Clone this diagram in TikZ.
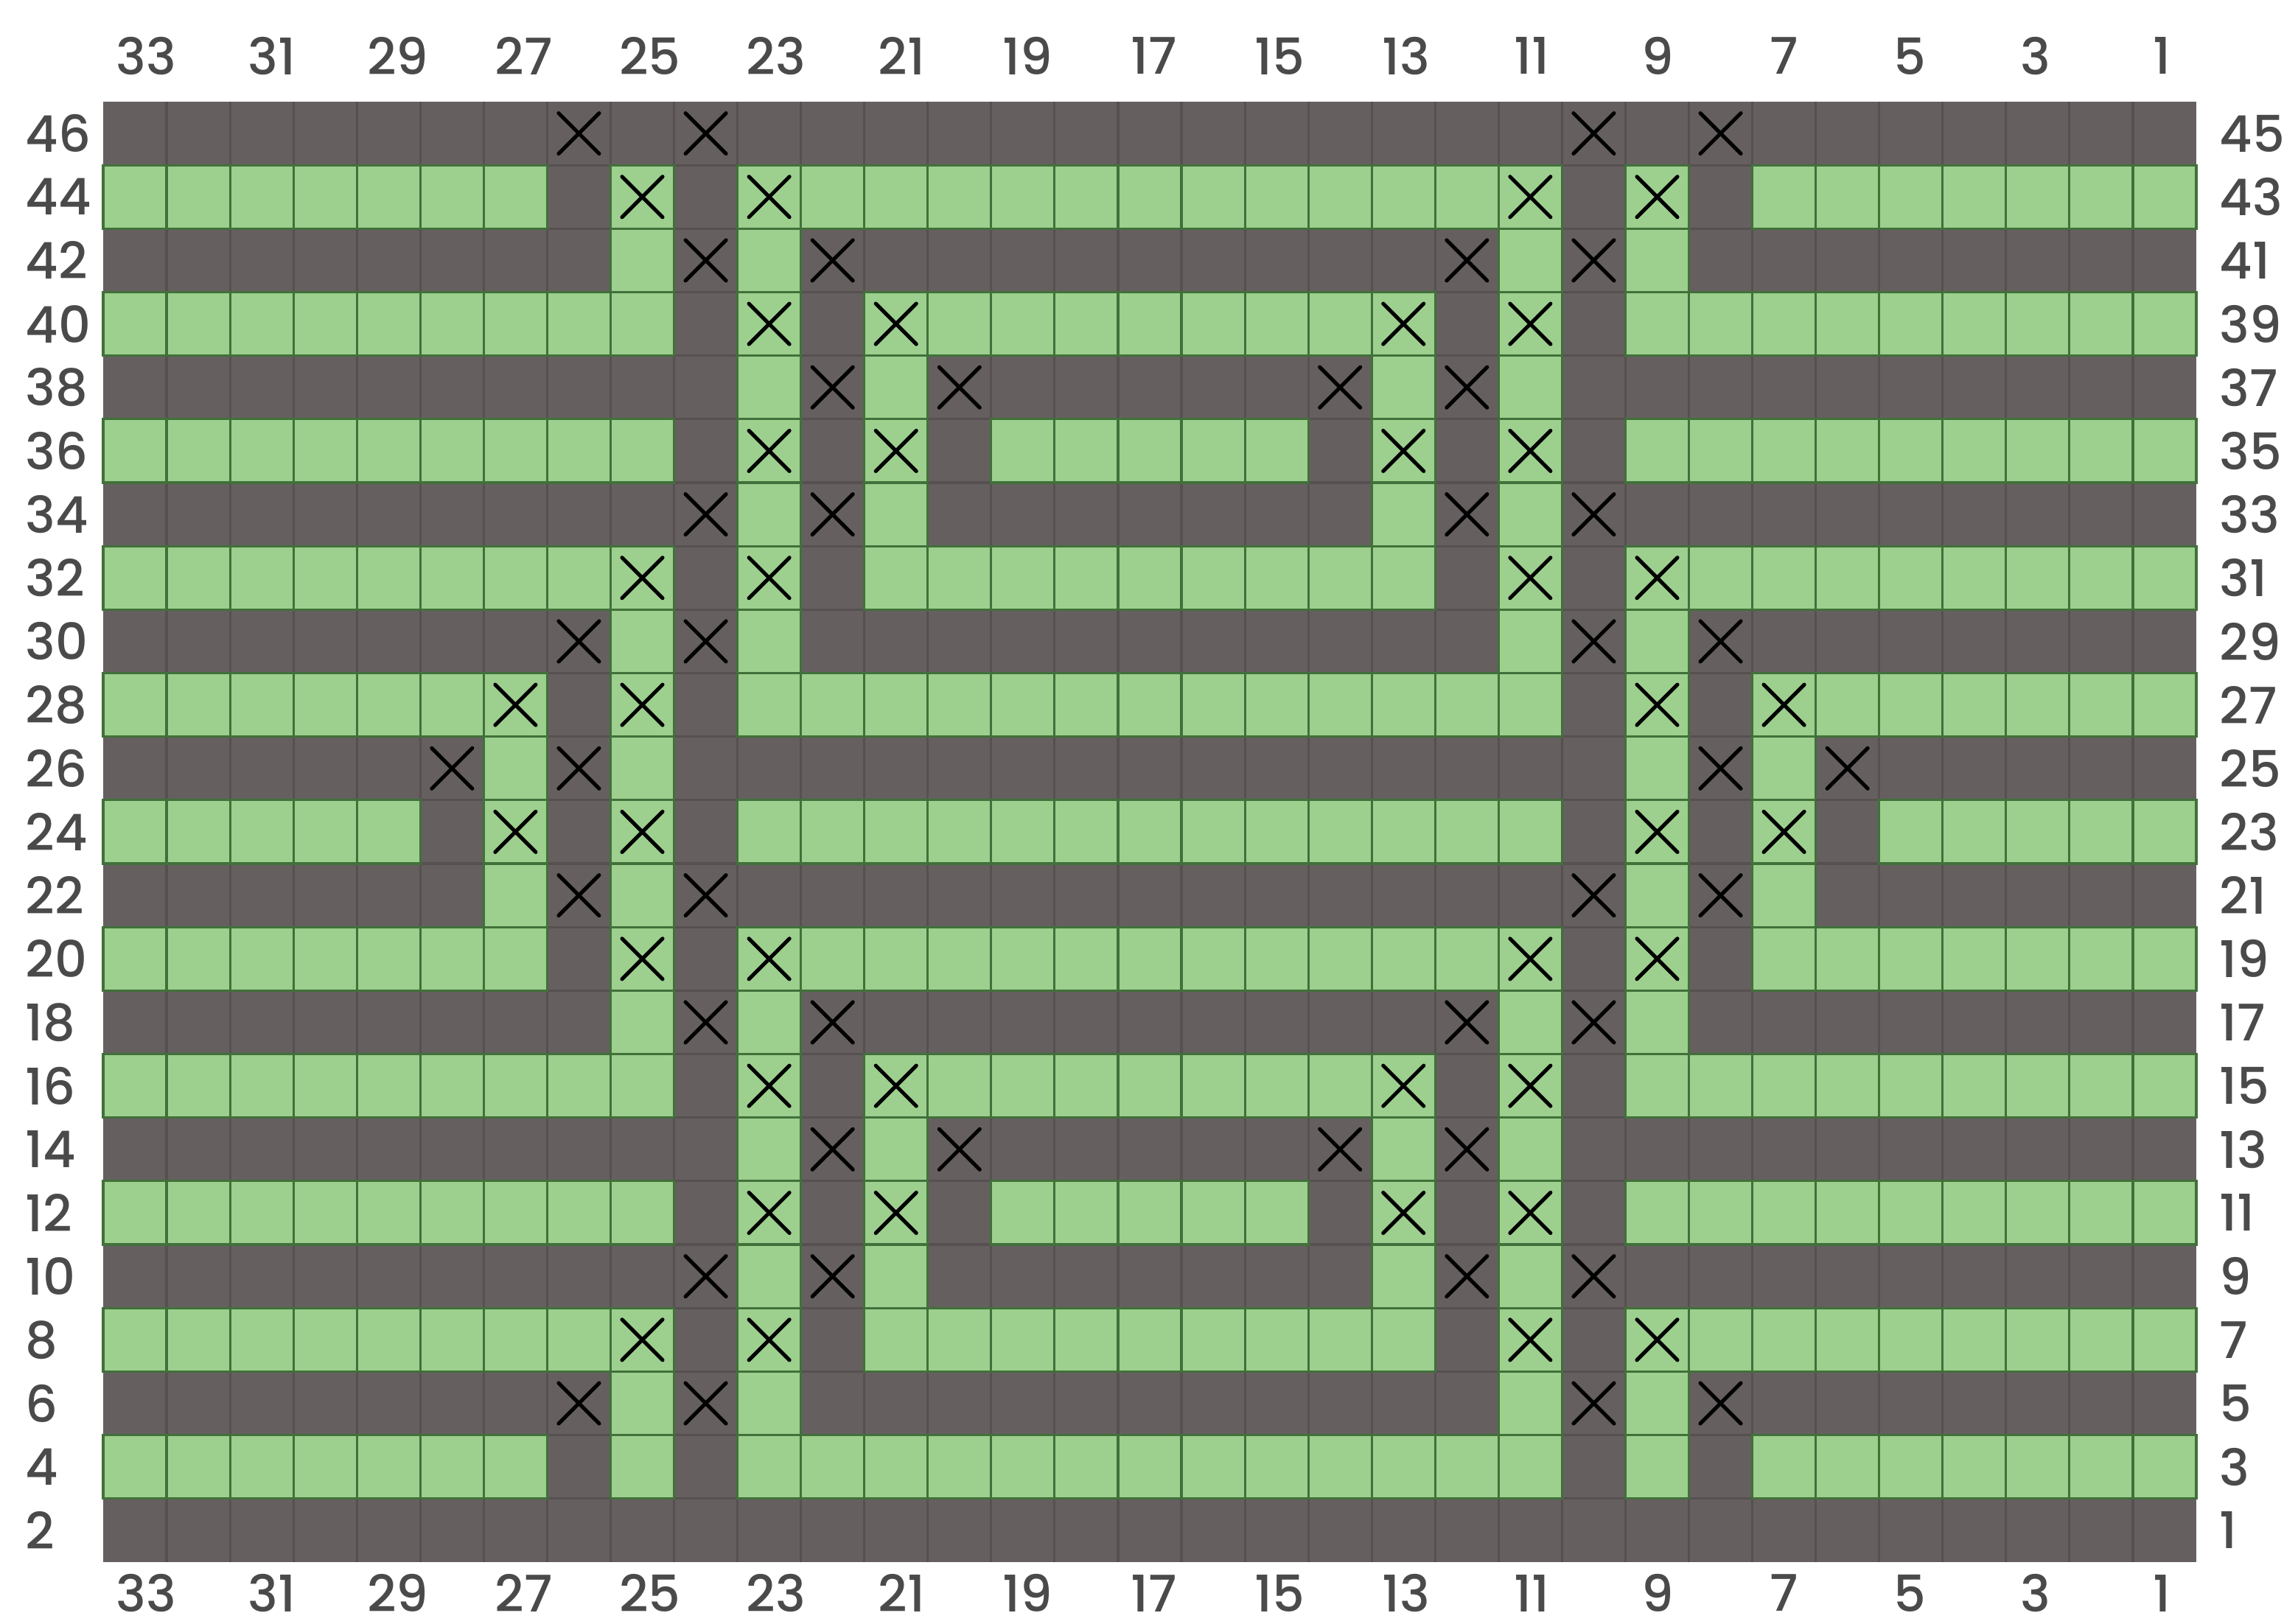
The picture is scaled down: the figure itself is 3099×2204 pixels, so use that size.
\documentclass[tikz,border=0pt]{standalone}
\usepackage{fontspec}
\setmainfont{Poppins}[UprightFont={* Medium}]
\definecolor{kgreen}{HTML}{9DCF8E}
\definecolor{kdark}{HTML}{65605F}
\definecolor{kgline}{HTML}{41703A}
\definecolor{kdline}{HTML}{565150}
\definecolor{klabel}{HTML}{4A4A4A}
\tikzset{
  gcellsty/.style={fill=kgreen, draw=kgline, line width=0.9pt},
  xmark/.style={draw=black, line width=1.45pt, line cap=round},
  lbl/.style={inner sep=0pt, text=klabel, font=\fontsize{19.5}{20}\selectfont},
}
\newcommand\kgc[2]{%
  \path[gcellsty] ({140+(#1-1)*86.06},{138+(#2-1)*86.17}) rectangle ++(86.06,86.17);}
\newcommand\kgs[3]{\foreach \cc in {#2,...,#3}{\kgc{\cc}{#1}}}
\newcommand\kxm[2]{%
  \draw[xmark] ({140+(#1-0.5)*86.06-27.5},{138+(#2-0.5)*86.17-27.5}) -- ++(55,55)
               ({140+(#1-0.5)*86.06+27.5},{138+(#2-0.5)*86.17-27.5}) -- ++(-55,55);}
\newcommand\kxrow[2]{\foreach \cc in {#2}{\kxm{\cc}{#1}}}
% green row types
\newcommand\rowA[1]{\kgs{#1}{1}{7}\kgc{9}{#1}\kgs{#1}{11}{23}\kgc{25}{#1}\kgs{#1}{27}{33}}
\newcommand\rowB[1]{\kgs{#1}{1}{9}\kgc{11}{#1}\kgs{#1}{13}{21}\kgc{23}{#1}\kgs{#1}{25}{33}}
\newcommand\rowC[1]{\kgs{#1}{1}{9}\kgc{11}{#1}\kgc{13}{#1}\kgs{#1}{15}{19}\kgc{21}{#1}\kgc{23}{#1}\kgs{#1}{25}{33}}
\newcommand\rowD[1]{\kgs{#1}{1}{5}\kgc{7}{#1}\kgc{9}{#1}\kgs{#1}{11}{23}\kgc{25}{#1}\kgc{27}{#1}\kgs{#1}{29}{33}}
\newcommand\dgr[2]{\foreach \cc in {#2}{\kgc{\cc}{#1}}}
\begin{document}
\begin{tikzpicture}[x=0.01cm,y=-0.01cm]
\useasboundingbox[fill=white] (0,0) rectangle (3099,2204);
% dark base
\fill[kdark] (140,138) rectangle (2980,2120);
\foreach \i in {1,...,32}{\draw[kdline,line width=0.9pt] ({140+\i*86.06},138) -- ({140+\i*86.06},2120);}
\foreach \j in {1,...,22}{\draw[kdline,line width=0.9pt] (140,{138+\j*86.17}) -- (2980,{138+\j*86.17});}
% green cells
\rowA{2}
\dgr{3}{9,11,23,25}
\rowB{4}
\dgr{5}{11,13,21,23}
\rowC{6}
\dgr{7}{11,13,21,23}
\rowB{8}
\dgr{9}{9,11,23,25}
\rowA{10}
\dgr{11}{7,9,25,27}
\rowD{12}
\dgr{13}{7,9,25,27}
\rowA{14}
\dgr{15}{9,11,23,25}
\rowB{16}
\dgr{17}{11,13,21,23}
\rowC{18}
\dgr{19}{11,13,21,23}
\rowB{20}
\dgr{21}{9,11,23,25}
\rowA{22}
% crosses
\kxrow{1}{8,10,24,26}
\kxrow{2}{9,11,23,25}
\kxrow{3}{10,12,22,24}
\kxrow{4}{11,13,21,23}
\kxrow{5}{12,14,20,22}
\kxrow{6}{11,13,21,23}
\kxrow{7}{10,12,22,24}
\kxrow{8}{9,11,23,25}
\kxrow{9}{8,10,24,26}
\kxrow{10}{7,9,25,27}
\kxrow{11}{6,8,26,28}
\kxrow{12}{7,9,25,27}
\kxrow{13}{8,10,24,26}
\kxrow{14}{9,11,23,25}
\kxrow{15}{10,12,22,24}
\kxrow{16}{11,13,21,23}
\kxrow{17}{12,14,20,22}
\kxrow{18}{11,13,21,23}
\kxrow{19}{10,12,22,24}
\kxrow{20}{9,11,23,25}
\kxrow{21}{8,10,24,26}
% column labels
\foreach \L in {33,31,...,1}{
  \node[lbl] (t\L) at ({198+(33-\L)/2*170.94},76) {\L};
  \node[lbl] (b\L) at ({198+(33-\L)/2*170.94},2162) {\L};
}
% row labels
\foreach \r in {1,...,23}{
  \pgfmathtruncatemacro\labL{48-2*\r}
  \pgfmathtruncatemacro\labR{47-2*\r}
  \node[lbl,anchor=west] (l\r) at (34,{138+(\r-0.5)*86.17}) {\labL};
  \node[lbl,anchor=west] (r\r) at (3011,{138+(\r-0.5)*86.17}) {\labR};
}
\end{tikzpicture}
\end{document}
